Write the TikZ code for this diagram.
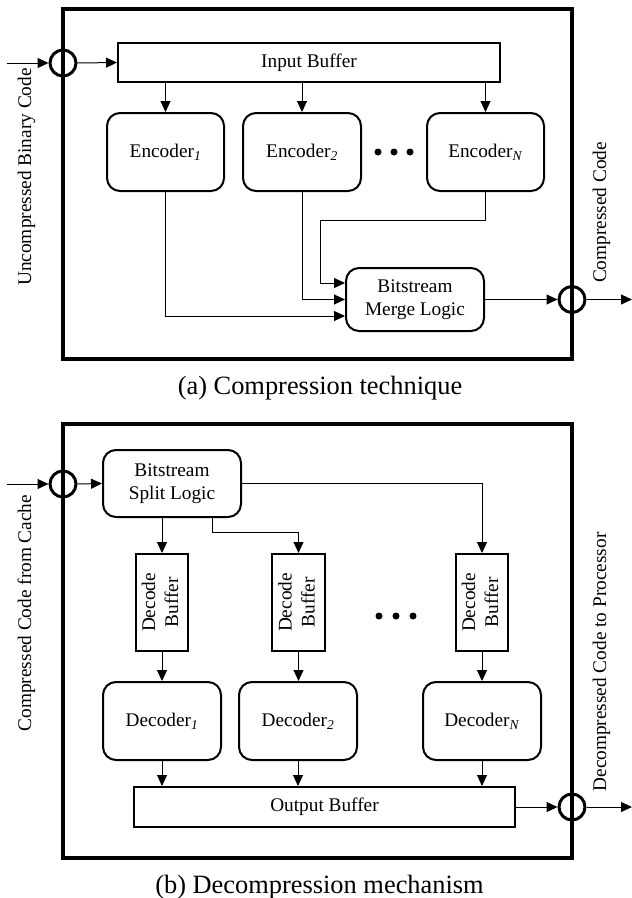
\documentclass[tikz,border=0pt]{standalone}
\usepackage{fontspec}
\setmainfont{Liberation Serif}
\usepackage{graphicx}
\usetikzlibrary{arrows.meta,calc}
\begin{document}
\begin{tikzpicture}[x=1pt,y=-1pt,
  every node/.style={font=\fontsize{19.3}{23}\selectfont, inner sep=0pt},
  rbox/.style={draw, line width=2pt, rounded corners=13pt, align=center},
  sbox/.style={draw, line width=2pt, align=center},
  frame/.style={draw, line width=3.2pt},
  port/.style={draw, circle, line width=3pt, minimum size=26pt},
  conn/.style={line width=1pt, -{Triangle[length=11pt,width=10pt]}},
  ddot/.style={fill, circle, minimum size=7pt},
  captxt/.style={font=\fontsize{26.4}{30}\selectfont, anchor=base},
  sidetxt/.style={rotate=90, anchor=base}
]
\useasboundingbox (0,0) rectangle (632,898);

% ---------------- (a) Compression technique ----------------
\node[frame, minimum width=509pt, minimum height=350pt] (frameA) at (317.5,184) {};
\node[port] (inA) at (63,63) {};
\node[port] (outA) at (572,299.5) {};
\coordinate (srcA) at (7,63);
\coordinate (sinkA) at (632,299.5);

\node[sbox, minimum width=382pt, minimum height=39pt] (inbuf) at (309,62.5) {Input Buffer};
\node[rbox, minimum width=117pt, minimum height=78pt] (E1) at (165.5,152) {Encoder\textsubscript{\textit{1}}};
\node[rbox, minimum width=118pt, minimum height=78pt] (E2) at (302,152) {Encoder\textsubscript{\textit{2}}};
\node[rbox, minimum width=117pt, minimum height=78pt] (EN) at (485.5,152) {Encoder\textsubscript{\textit{N}}};
\node[rbox, minimum width=138pt, minimum height=63pt] (merge) at (415,299.5) {Bitstream\\Merge Logic};

\node[ddot] (da1) at (378,152) {};
\node[ddot] (da2) at (394,152) {};
\node[ddot] (da3) at (410,152) {};

\draw[conn] (srcA) -- (inA.west);
\draw[conn] (inA.east) -- (inbuf.west);
\draw[conn] (inbuf.south -| E1.north) -- (E1.north);
\draw[conn] (inbuf.south -| E2.north) -- (E2.north);
\draw[conn] (inbuf.south -| EN.north) -- (EN.north);
\draw[conn] (E1.south) |- ($(merge.west)+(0,16.5)$);
\draw[conn] (E2.south) |- (merge.west);
\draw[conn] (EN.south) |- (320,220) |- ($(merge.west)+(0,-16.5)$);
\draw[conn] (merge.east) -- (outA.west);
\draw[conn] (outA.east) -- (sinkA);

\node[sidetxt] (lblA1) at (31,177) {Uncompressed Binary Code};
\node[sidetxt] (lblA2) at (606,212.5) {Compressed Code};
\node[captxt] (capA) at (320,394) {(a) Compression technique};

% ---------------- (b) Decompression mechanism ----------------
\node[frame, minimum width=509pt, minimum height=434pt] (frameB) at (317.5,641) {};
\node[port] (inB) at (63,484) {};
\node[port] (outB) at (572,807) {};
\coordinate (srcB) at (7,484);
\coordinate (sinkB) at (632,807);

\node[rbox, minimum width=138pt, minimum height=67pt] (split) at (172,483.5) {Bitstream\\Split Logic};

\node[sbox, minimum width=52pt, minimum height=97pt] (DB1) at (162,602.5)
  {\rotatebox{90}{\begin{tabular}{@{}c@{}}Decode\\Buffer\end{tabular}}};
\node[sbox, minimum width=53pt, minimum height=97pt] (DB2) at (298.5,602.5)
  {\rotatebox{90}{\begin{tabular}{@{}c@{}}Decode\\Buffer\end{tabular}}};
\node[sbox, minimum width=52pt, minimum height=97pt] (DBN) at (482,602.5)
  {\rotatebox{90}{\begin{tabular}{@{}c@{}}Decode\\Buffer\end{tabular}}};

\node[rbox, minimum width=118pt, minimum height=78pt] (D1) at (162,721) {Decoder\textsubscript{\textit{1}}};
\node[rbox, minimum width=118pt, minimum height=78pt] (D2) at (298,721) {Decoder\textsubscript{\textit{2}}};
\node[rbox, minimum width=118pt, minimum height=78pt] (DN) at (482,721) {Decoder\textsubscript{\textit{N}}};

\node[sbox, minimum width=381pt, minimum height=40pt] (outbuf) at (324.5,807) {Output Buffer};

\node[ddot] (db1) at (379,616) {};
\node[ddot] (db2) at (396,616) {};
\node[ddot] (db3) at (413,616) {};

\draw[conn] (srcB) -- (inB.west);
\draw[conn] (inB.east) -- (split.west);
\draw[conn] (split.south -| DB1.north) -- (DB1.north);
\draw[conn] ($(split.south)+(40,0)$) -- ++(0,14) -| (DB2.north);
\draw[conn] (split.east) -| (DBN.north);

\draw[conn] (DB1.south) -- (D1.north);
\draw[conn] (DB2.south) -- (DB2.south |- D2.north);
\draw[conn] (DBN.south) -- (DN.north);

\draw[conn] (D1.south) -- (D1.south |- outbuf.north);
\draw[conn] (D2.south) -- (D2.south |- outbuf.north);
\draw[conn] (DN.south) -- (DN.south |- outbuf.north);

\draw[conn] (outbuf.east) -- (outB.west);
\draw[conn] (outB.east) -- (sinkB);

\node[sidetxt] (lblB1) at (31,613) {Compressed Code from Cache};
\node[sidetxt] (lblB2) at (606,662) {Decompressed Code to Processor};
\node[captxt] (capB) at (319.5,893) {(b) Decompression mechanism};
\end{tikzpicture}
\end{document}
